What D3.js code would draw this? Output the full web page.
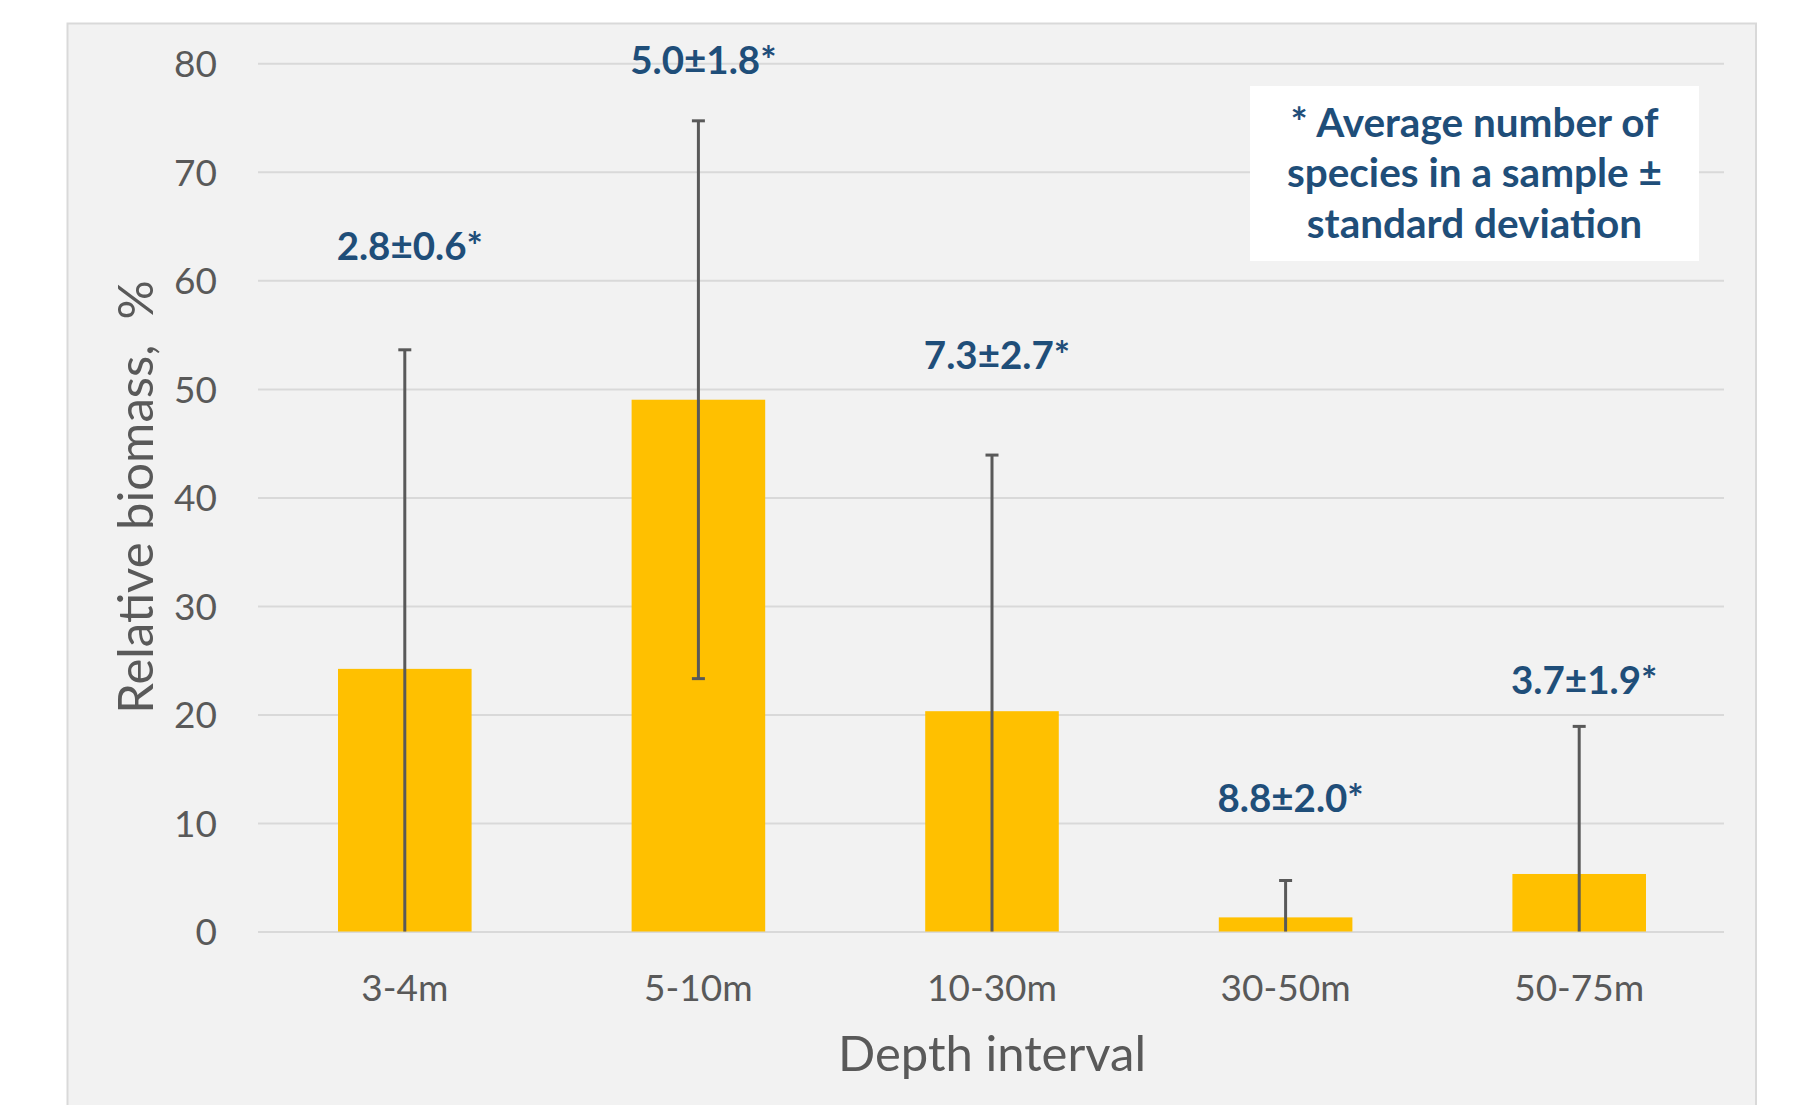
<!DOCTYPE html>
<html>
<head>
<meta charset="utf-8">
<script src="https://cdn.jsdelivr.net/npm/d3@7"></script>
<style>
  html, body { margin: 0; padding: 0; background: #ffffff; }
  svg { display: block; }
  text { font-family: Lato, "Open Sans", sans-serif; }
</style>
</head>
<body>
<svg id="chart" width="1793" height="1105"></svg>
<script>
// ---- data ----
const categories = ["3-4m", "5-10m", "10-30m", "30-50m", "50-75m"];
const biomass = [24.2, 49.0, 20.3, 1.3, 5.3];
const stdDev = [29.4, 25.7, 23.6, 3.4, 13.6];
const speciesLabels = ["2.8±0.6*", "5.0±1.8*", "7.3±2.7*", "8.8±2.0*", "3.7±1.9*"];
const speciesLabelLevel = [61.9, 79.0, 51.8, 11.0, 21.9]; // value level of annotation baseline
const yTicks = [0, 10, 20, 30, 40, 50, 60, 70, 80];
const legendLines = ["* Average number of", "species in a sample ±", "standard deviation"];
const xTitle = "Depth interval";
const yTitle = "Relative biomass,  %";

// ---- layout ----
const svg = d3.select("#chart");
const W = 1793, H = 1105;
const plot = { left: 258, right: 1726, top: 63.3, bottom: 931.5 };

svg.append("rect").attr("width", W).attr("height", H).attr("fill", "#ffffff");
svg.append("rect")
  .attr("x", 67.5).attr("y", 23.5)
  .attr("width", 1756 - 67.5).attr("height", H + 10)
  .attr("fill", "#f2f2f2").attr("stroke", "#d9d9d9").attr("stroke-width", 2);

const x = d3.scaleBand().domain(categories)
  .range([plot.left, plot.right])
  .paddingInner(0.545).paddingOuter(0.2725);
const y = d3.scaleLinear().domain([0, 80]).range([plot.bottom, plot.top]);

// y axis with gridlines
const yAxis = svg.append("g")
  .attr("transform", `translate(${plot.left},0)`)
  .call(d3.axisLeft(y).tickValues(yTicks).tickSize(-(1724 - plot.left)).tickPadding(41));
yAxis.select(".domain").remove();
yAxis.selectAll(".tick line").attr("stroke", "#d9d9d9").attr("stroke-width", 2);
yAxis.selectAll(".tick text")
  .attr("fill", "#595959").attr("font-size", 37).attr("dy", "0.36em");

// x axis
const xAxis = svg.append("g")
  .attr("transform", `translate(0,${plot.bottom})`)
  .call(d3.axisBottom(x).tickSize(0).tickPadding(0));
xAxis.select(".domain").remove();
xAxis.selectAll(".tick text")
  .attr("fill", "#595959").attr("font-size", 37)
  .attr("dy", null).attr("y", 69);

// bars
svg.append("g").selectAll("rect")
  .data(categories)
  .join("rect")
  .attr("x", d => x(d))
  .attr("width", x.bandwidth())
  .attr("y", (d, i) => y(biomass[i]))
  .attr("height", (d, i) => y(0) - y(biomass[i]))
  .attr("fill", "#ffc000");

// error bars
const eb = svg.append("g").attr("stroke", "#595959").attr("stroke-width", 3);
categories.forEach((c, i) => {
  const cx = x(c) + x.bandwidth() / 2;
  const hi = biomass[i] + stdDev[i];
  const lo = Math.max(0, biomass[i] - stdDev[i]);
  eb.append("line").attr("x1", cx).attr("x2", cx).attr("y1", y(lo)).attr("y2", y(hi));
  eb.append("line").attr("x1", cx - 6.5).attr("x2", cx + 6.5).attr("y1", y(hi)).attr("y2", y(hi));
  if (biomass[i] - stdDev[i] >= 0) {
    eb.append("line").attr("x1", cx - 6.5).attr("x2", cx + 6.5).attr("y1", y(lo)).attr("y2", y(lo));
  }
});

// species annotations
svg.append("g").selectAll("text")
  .data(categories)
  .join("text")
  .attr("x", d => x(d) + x.bandwidth() / 2 + 5)
  .attr("y", (d, i) => y(speciesLabelLevel[i]))
  .attr("text-anchor", "middle")
  .attr("font-size", 38.5).attr("font-weight", 700)
  .attr("fill", "#1f4e79")
  .text((d, i) => speciesLabels[i]);

// axis titles
svg.append("text")
  .attr("x", (plot.left + plot.right) / 2).attr("y", 1071)
  .attr("text-anchor", "middle")
  .attr("font-size", 49).attr("fill", "#595959")
  .text(xTitle);
svg.append("text")
  .attr("transform", `translate(153,497) rotate(-90)`)
  .attr("text-anchor", "middle")
  .style("white-space", "pre")
  .attr("font-size", 49).attr("fill", "#595959")
  .text(yTitle);

// legend note
const lg = svg.append("g");
lg.append("rect").attr("x", 1250).attr("y", 86).attr("width", 449).attr("height", 175).attr("fill", "#ffffff");
lg.selectAll("text").data(legendLines).join("text")
  .attr("x", 1474.5).attr("y", (d, i) => 137 + i * 50.3)
  .attr("text-anchor", "middle")
  .attr("font-size", 40.5).attr("font-weight", 700).attr("fill", "#1f4e79")
  .text(d => d);
</script>
</body>
</html>
